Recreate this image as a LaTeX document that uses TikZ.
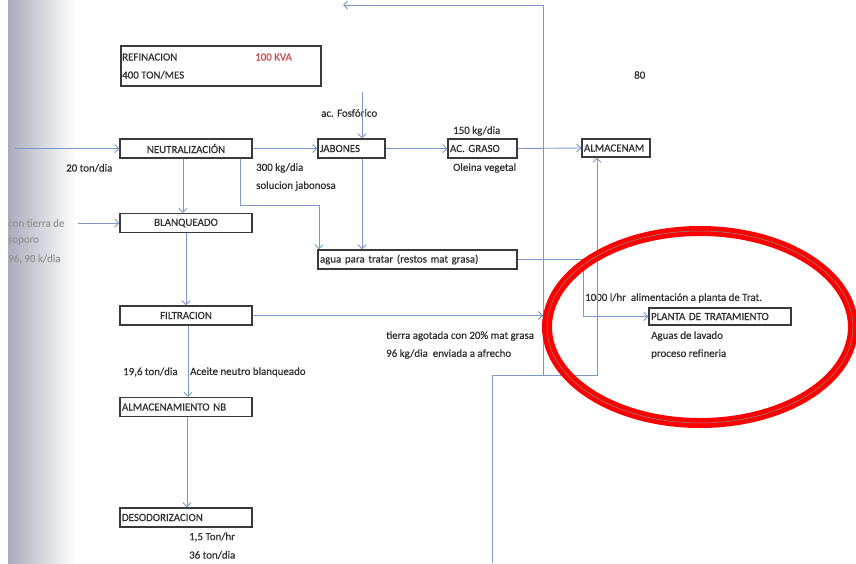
\documentclass[tikz,border=0pt]{standalone}
\usepackage{fontspec}
\setmainfont{Carlito}[FakeBold=0.6]
\usetikzlibrary{arrows.meta,calc}
\definecolor{flow}{HTML}{7A98C6}
\definecolor{boxc}{HTML}{3A3A3A}
\definecolor{txt}{HTML}{333333}
\definecolor{kva}{HTML}{C84A4A}
\definecolor{shadow}{HTML}{A8ACBC}
\tikzset{
  lbl/.style={font=\fontsize{10.9}{13}\selectfont, text=txt, inner sep=0pt, anchor=west},
  faint/.style={lbl, text=black!40},
  boxc/.style={draw=boxc, line width=1.3pt, font=\fontsize{10.9}{13}\selectfont, text=txt, inner ysep=0pt, minimum height=19pt},
  boxcen/.style={boxc, minimum width=#1, inner xsep=0pt},
  boxleft/.style={boxc, text width=#1-4pt, inner xsep=2pt, align=left},
  flowline/.style={draw=flow, line width=0.9pt},
  arr/.style={flowline, -{Straight Barb[length=4pt,width=8pt]}},
}
\begin{document}
\begin{tikzpicture}[x=1pt,y=-1pt]
\useasboundingbox (0,0) rectangle (856,563);
\fill[white] (0,0) rectangle (856,563);
% scan shadow on the left edge
\shade[left color=shadow, right color=white] (8,0) rectangle (75,563);
\fill[white] (75,0) rectangle (856,563);

% header box
\node[draw=boxc, line width=2pt, minimum width=200pt, minimum height=40pt, anchor=north west, inner sep=0pt] (refbox) at (120,45) {};
\node[lbl] (refin) at (122,57) {REFINACION};
\node[lbl, text=kva] (kvatext) at (255,57) {100 KVA};
\node[lbl] (tonmes) at (122,75) {400 TON/MES};
\node[lbl] (pagenum) at (634,75) {80};

% process boxes
\node[boxcen=132pt] (neut) at (186,148.5) {NEUTRALIZACIÓN};
\node[boxleft=67pt] (jab) at (351.5,148.5) {JABONES};
\node[boxleft=69pt] (acg) at (482.5,148.5) {AC. GRASO};
\node[boxleft=68pt, minimum height=18pt] (alm) at (616,148) {ALMACENAM};
\node[boxcen=132pt] (blq) at (186,223) {BLANQUEADO};
\node[boxleft=199pt] (agua) at (417.5,259.5) {agua para tratar (restos mat grasa)};
\node[boxcen=132pt] (filt) at (186,315.5) {FILTRACION};
\node[boxleft=132pt] (almnb) at (186,407) {ALMACENAMIENTO NB};
\node[boxleft=132pt] (deso) at (186,517.5) {DESODORIZACION};
\node[boxleft=142pt, minimum height=17pt] (planta) at (720,316.5) {PLANTA DE TRATAMIENTO};

% labels
\node[lbl] (l20) at (66,168) {20 ton/dia};
\node[lbl] (l300) at (256,168) {300 kg/dia};
\node[lbl] (lsol) at (256,186) {solucion jabonosa};
\node[lbl] (lfos) at (321,113) {ac. Fosfórico};
\node[lbl] (l150) at (453,131) {150 kg/dia};
\node[lbl] (lole) at (453,168) {Oleina vegetal};
\node[faint] (lt1) at (8,223) {con tierra de};
\node[faint] (lt2) at (8,241) {soporo};
\node[faint] (lt3) at (8,259) {96, 90 k/dia};
\node[lbl] (l196) at (123,372) {19,6 ton/dia};
\node[lbl] (lacn) at (190,372) {Aceite neutro blanqueado};
\node[lbl] (ltie) at (386,336) {tierra agotada con 20\% mat grasa};
\node[lbl] (l96) at (386,354) {96 kg/dia\ \ enviada a afrecho};
\node[lbl] (l1000) at (585,298) {1000 l/hr\ \ alimentación a planta de Trat.};
\node[lbl] (lagu) at (651,336) {Aguas de lavado};
\node[lbl] (lpro) at (651,354) {proceso refineria};
\node[lbl] (l15) at (189,537) {1,5 Ton/hr};
\node[lbl] (l36) at (189,555) {36 ton/dia};

% free ends and junctions
\coordinate (in1) at (15,148.5);
\coordinate (fos) at (362,92);
\coordinate (topend) at (343,5);
\coordinate (topcorner) at (543,5);
\coordinate (j1) at (543,375);
\coordinate (j3) at (597,375);
\coordinate (bot) at (492,563);
\coordinate (blqin) at (78,223);
\coordinate (c1) at (319,205);
\coordinate (c2) at (583,259.5);

% connectors
\draw[arr] (in1) -- (neut.west);
\draw[arr] (neut.east) -- (jab.west);
\draw[arr] (fos) -- (fos |- jab.north);
\draw[arr] (jab.east) -- (acg.west);
\draw[arr] (acg.east) -- (alm.west);
\draw[arr] (j1) -- (topcorner) -- (topend);
\draw[arr] ([xshift=-3pt]neut.south) -- ([xshift=-3pt]blq.north);
\draw[arr] ([xshift=54pt]neut.south) |- (c1) -- (c1 |- agua.north);
\draw[arr] (fos |- jab.south) -- (fos |- agua.north);
\draw[arr] (blqin) -- (blq.west);
\draw[arr] (blq.south) -- (filt.north);
\draw[arr] (filt.east) -- (filt.east -| j1);
\draw[arr] ([xshift=2pt]filt.south) -- ([xshift=2pt]almnb.north);
\draw[arr] ([xshift=1pt]almnb.south) -- ([xshift=1pt]deso.north);
\draw[arr] (agua.east) -- (c2) |- (planta.west);
\draw[arr] (bot) |- (j3) -- (j3 |- alm.south);

% red highlight ellipse
\draw[red, line width=10pt] (700,327) ellipse [x radius=153, y radius=96];
\draw[black!45, line width=0.5pt] (700,327) ellipse [x radius=153, y radius=96];
\end{tikzpicture}
\end{document}
